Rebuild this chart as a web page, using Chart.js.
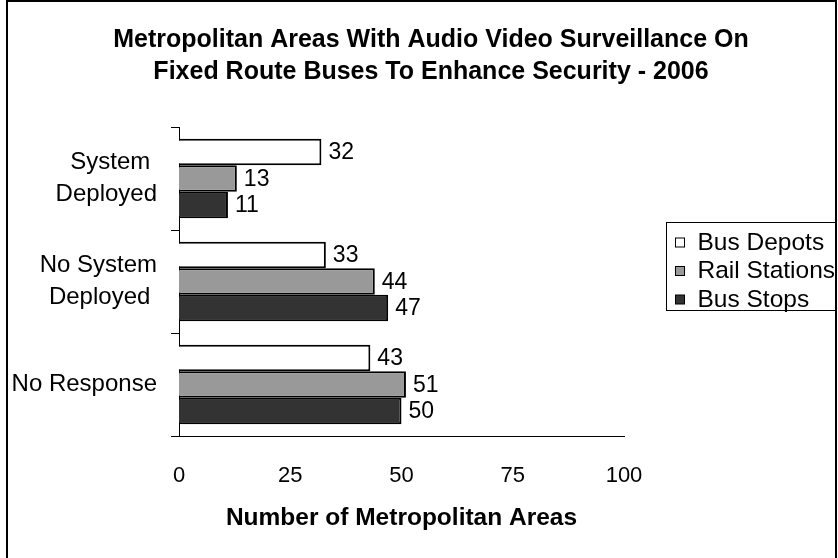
<!DOCTYPE html>
<html>
<head>
<meta charset="utf-8">
<title>Metropolitan Areas With Audio Video Surveillance</title>
<script src="https://cdn.jsdelivr.net/npm/chart.js@4.4.1/dist/chart.umd.min.js"></script>
<style>
  html, body { margin: 0; padding: 0; background: #fff; }
  #wrap { width: 838px; height: 558px; }
</style>
</head>
<body>
<div id="wrap"><canvas id="surveillance-chart" width="838" height="558"></canvas></div>
<script>
const categories = [["System", "Deployed"], ["No System", "Deployed"], "No Response"];
const busDepots = [32, 33, 43];
const railStations = [13, 44, 51];
const busStops = [11, 47, 50];
const xTicks = [0, 25, 50, 75, 100];

const FONT = '"Liberation Sans", Arial, sans-serif';

// pad the shorter line of a two-line label so the lines look centred on each other
function centerLines(label) {
    if (!Array.isArray(label)) return label;
    const c = document.createElement('canvas').getContext('2d');
    c.font = '24px ' + FONT;
    const widths = label.map(l => c.measureText(l).width);
    const max = Math.max(...widths);
    const sp = c.measureText(' ').width;
    return label.map((l, i) => l + ' '.repeat(Math.floor((max - widths[i]) / 2 / sp)));
}

// boxed legend on the right, kept as a layout box so the plot keeps its width
const legendBox = {
    position: 'right',
    weight: 10,
    fullSize: false,
    options: {},
    isHorizontal() { return false; },
    update(maxWidth, maxHeight) {
        this.width = 238;
        this.height = maxHeight;
    },
    draw() {
        const chart = this.chart;
        const ctx = chart.ctx;
        const x0 = this.left + 42.5;
        ctx.save();
        ctx.strokeStyle = '#000';
        ctx.lineWidth = 1;
        ctx.strokeRect(x0, 222.5, 836 - x0, 88);
        ctx.font = '24.5px ' + FONT;
        ctx.textBaseline = 'middle';
        chart.data.datasets.forEach((ds, i) => {
            const y = 242 + i * 28.5;
            ctx.fillStyle = ds.backgroundColor;
            ctx.fillRect(x0 + 9, y - 4, 9, 9);
            ctx.strokeRect(x0 + 9, y - 4, 9, 9);
            ctx.fillStyle = '#000';
            ctx.fillText(ds.label, x0 + 31, y + 1);
        });
        ctx.restore();
    }
};

const layoutPlugin = {
    id: 'legendBox',
    beforeInit(chart) {
        legendBox.chart = chart;
        Chart.layouts.addBox(chart, legendBox);
    }
};

const framePlugin = {
    id: 'frame',
    beforeDraw(chart) {
        const ctx = chart.ctx;
        ctx.save();
        ctx.fillStyle = '#fff';
        ctx.fillRect(0, 0, chart.width, chart.height);
        ctx.strokeStyle = '#000';
        ctx.lineWidth = 2;
        ctx.beginPath();
        ctx.moveTo(7, 560);
        ctx.lineTo(7, 1);
        ctx.lineTo(836, 1);
        ctx.lineTo(836, 560);
        ctx.stroke();
        ctx.restore();
    }
};

const valueLabels = {
    id: 'valueLabels',
    afterDatasetsDraw(chart) {
        const ctx = chart.ctx;
        ctx.save();
        ctx.font = '23px ' + FONT;
        ctx.fillStyle = '#000';
        ctx.textBaseline = 'middle';
        ctx.textAlign = 'left';
        chart.data.datasets.forEach((ds, i) => {
            chart.getDatasetMeta(i).data.forEach((bar, j) => {
                ctx.fillText(ds.data[j], bar.x + 7, bar.y + 1);
            });
        });
        ctx.restore();
    }
};

document.addEventListener('DOMContentLoaded', () => {
    const ctx = document.getElementById('surveillance-chart').getContext('2d');
    new Chart(ctx, {
        type: 'bar',
        data: {
            labels: categories,
            datasets: [
                { label: 'Bus Depots', data: busDepots, backgroundColor: '#ffffff' },
                { label: 'Rail Stations', data: railStations, backgroundColor: '#999999' },
                { label: 'Bus Stops', data: busStops, backgroundColor: '#333333' }
            ].map(ds => Object.assign(ds, {
                borderColor: '#000000',
                borderWidth: 2,
                barPercentage: 1,
                categoryPercentage: 0.77
            }))
        },
        options: {
            indexAxis: 'y',
            responsive: false,
            animation: false,
            devicePixelRatio: 1,
            // negative right padding moves the title centre to where the original sits
            layout: { padding: { left: 0, right: -24, top: 0, bottom: 0 } },
            scales: {
                x: {
                    min: 0,
                    max: 100,
                    afterBuildTicks: (scale) => { scale.ticks = xTicks.map(v => ({ value: v })); },
                    afterFit: (scale) => { scale.height = 122; },
                    grid: { display: false, drawTicks: false },
                    border: { display: true, color: '#000', width: 1 },
                    ticks: {
                        padding: 27,
                        color: '#000',
                        font: { family: FONT, size: 22, lineHeight: 1.2 }
                    },
                    title: {
                        display: true,
                        text: 'Number of Metropolitan Areas',
                        color: '#000',
                        padding: { top: 0, bottom: 25 },
                        font: { family: FONT, size: 24.5, weight: 'bold', lineHeight: 1.2 }
                    }
                },
                y: {
                    afterFit: (scale) => { scale.width = 179; },
                    grid: {
                        display: true,
                        drawOnChartArea: false,
                        drawTicks: true,
                        tickLength: 8,
                        color: '#000',
                        offset: true
                    },
                    border: { display: true, color: '#000', width: 1 },
                    ticks: {
                        padding: 14,
                        color: '#000',
                        font: { family: FONT, size: 24, lineHeight: 1.33 },
                        callback: function(value) {
                            return centerLines(this.getLabelForValue(value));
                        }
                    }
                }
            },
            plugins: {
                legend: { display: false },
                tooltip: { enabled: false },
                title: {
                    display: true,
                    text: ['Metropolitan Areas With Audio Video Surveillance On',
                           'Fixed Route Buses To Enhance Security - 2006'],
                    color: '#000',
                    padding: { top: 24, bottom: 39 },
                    font: { family: FONT, size: 25, weight: 'bold', lineHeight: 1.28 }
                }
            }
        },
        plugins: [layoutPlugin, framePlugin, valueLabels]
    });
});
</script>
</body>
</html>
